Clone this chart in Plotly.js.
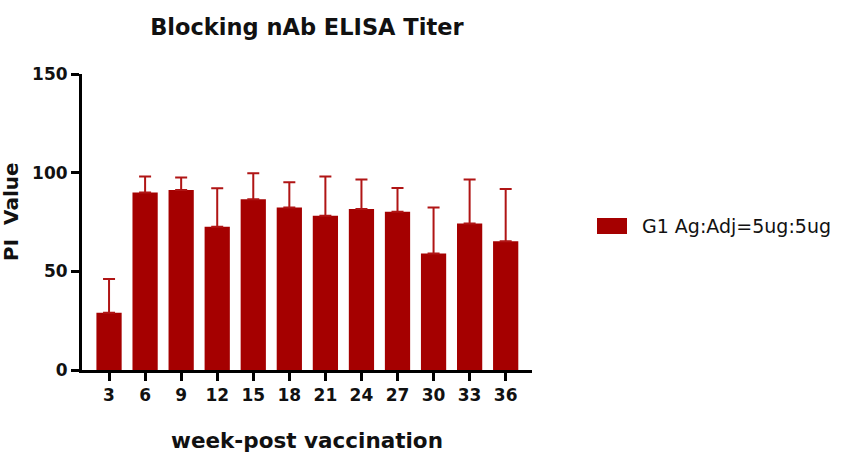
<!DOCTYPE html>
<html>
<head>
<meta charset="utf-8">
<script src="https://cdn.plot.ly/plotly-3.0.1.min.js"></script>
<style>body{margin:0;background:#fff;}#chart{width:850px;height:461px;}</style>
</head>
<body>
<div id="chart"></div>
<script>
const weeks = ['3','6','9','12','15','18','21','24','27','30','33','36'];
const piMean = [29.0, 89.9, 91.2, 72.6, 86.5, 82.3, 78.2, 81.6, 80.2, 59.0, 74.2, 65.2];
const piErr = [17.1, 8.1, 6.3, 19.5, 13.2, 12.8, 19.8, 15.0, 12.0, 23.4, 22.4, 26.5];
const seriesName = 'G1 Ag:Adj=5ug:5ug';
const yTicks = [0, 50, 100, 150];

const barColor = '#a50000';
const boldFont = 'DejaVu Sans, Arial';
const trace = {
  type: 'bar',
  x: weeks,
  y: piMean,
  name: seriesName,
  marker: {color: barColor, line: {width: 0}},
  error_y: {type: 'data', array: piErr, symmetric: false, arrayminus: piMean.map(()=>0),
            color: '#b01515', thickness: 2, width: 6},
  showlegend: false
};
// plot area in pixels: x 82..532, y 74..370
const px = v => (v - 82) / 450;
const py = v => (370 - v) / 296;
const layout = {
  width: 850, height: 461,
  margin: {l: 82, r: 318, t: 74, b: 91},
  paper_bgcolor: '#fff', plot_bgcolor: '#fff',
  bargap: 0.3,
  showlegend: false,
  title: {text: '<b>Blocking nAb ELISA Titer</b>', x: 0.361, xanchor: 'center', y: 0.942, yanchor: 'middle',
          font: {family: boldFont, size: 22.5, color: '#111'}},
  xaxis: {
    type: 'category', range: [-0.75, 11.73],
    showline: true, linecolor: '#000', linewidth: 3,
    ticks: 'outside', ticklen: 8, tickwidth: 3, tickcolor: '#000',
    tickfont: {family: boldFont, size: 17, color: '#111', weight: 'bold'},
    showgrid: false, zeroline: false,
    title: {text: '<b>week-post vaccination</b>', standoff: 29,
            font: {family: boldFont, size: 21.5, color: '#111'}}
  },
  yaxis: {
    range: [0, 150], tickvals: yTicks, ticktext: yTicks.map(String),
    showline: true, linecolor: '#000', linewidth: 3,
    ticks: 'outside', ticklen: 8, tickwidth: 3, tickcolor: '#000',
    tickfont: {family: boldFont, size: 17, color: '#111', weight: 'bold'},
    showgrid: false, zeroline: false
  },
  shapes: [{type: 'rect', xref: 'paper', yref: 'paper',
            x0: px(597), x1: px(627), y0: py(234), y1: py(218),
            fillcolor: barColor, line: {width: 0}}],
  annotations: [
    {xref: 'paper', yref: 'paper', x: px(640), y: py(226),
     xanchor: 'left', yanchor: 'middle', showarrow: false,
     text: seriesName,
     font: {family: 'DejaVu Sans, Arial', size: 19, color: '#111'}},
    {xref: 'paper', yref: 'paper', x: px(11), y: py(212),
     xanchor: 'center', yanchor: 'middle', showarrow: false, textangle: -90,
     text: '<b>PI  Value</b>',
     font: {family: boldFont, size: 20, color: '#111'}}
  ]
};
Plotly.newPlot('chart', [trace], layout, {displayModeBar: false, staticPlot: true});
</script>
</body>
</html>
